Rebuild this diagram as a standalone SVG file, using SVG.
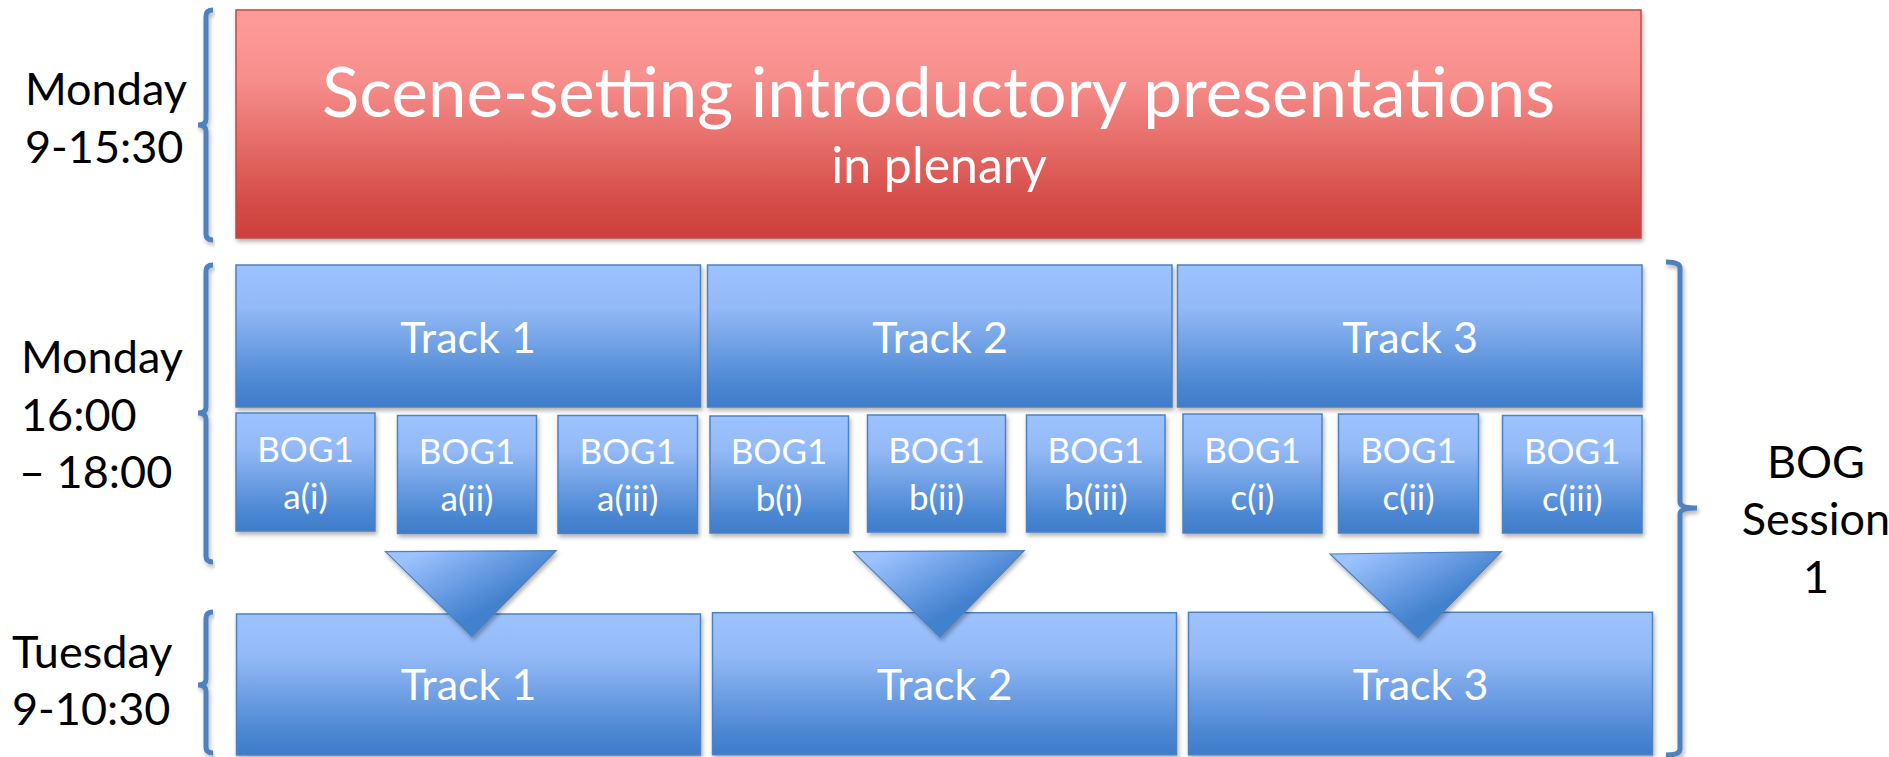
<svg xmlns="http://www.w3.org/2000/svg" width="1889" height="757" viewBox="0 0 1889 757">
<defs>
<linearGradient id="gBlue" x1="0" y1="0" x2="0" y2="1">
<stop offset="0" stop-color="#9DC3FF"/>
<stop offset="0.3" stop-color="#93B9F6"/>
<stop offset="0.85" stop-color="#4A86D2"/>
<stop offset="1" stop-color="#3F7CCB"/>
</linearGradient>
<linearGradient id="gRed" x1="0" y1="0" x2="0" y2="1">
<stop offset="0" stop-color="#FF9C9A"/>
<stop offset="0.3" stop-color="#F78F8C"/>
<stop offset="0.85" stop-color="#D44B47"/>
<stop offset="1" stop-color="#CD3F3C"/>
</linearGradient>
<linearGradient id="gTri" x1="0.15" y1="0.05" x2="0.7" y2="0.55">
<stop offset="0" stop-color="#9DC3FF"/>
<stop offset="1" stop-color="#4381CE"/>
</linearGradient>
<filter id="sh" x="-10%" y="-10%" width="120%" height="130%">
<feDropShadow dx="1.5" dy="3" stdDeviation="2" flood-color="#000" flood-opacity="0.3"/>
</filter>
</defs>
<style>
.blue{fill:url(#gBlue);stroke:#4F81BD;stroke-width:1.5;filter:url(#sh)}
.red{fill:url(#gRed);stroke:#BE4B48;stroke-width:1.5;filter:url(#sh)}
.tri{fill:url(#gTri);stroke:#4F81BD;stroke-width:1.2;filter:url(#sh)}
.br{fill:none;stroke:#4F81BD;stroke-width:5;filter:url(#sh)}
.w{fill:#FFFFFF;font-family:Lato,"Liberation Sans",sans-serif;text-anchor:middle}
.k{fill:#000000;font-family:Lato,"Liberation Sans",sans-serif;font-size:45px}
.trk{font-size:43px}
.bog{font-size:35px}
</style>

<g id="brackets">
<path class="br" d="M213,10 Q206,10 206,16 V119 Q206,125 198,125 Q206,125 206,131 V234 Q206,240 213,240"/>
<path class="br" d="M213,265 Q206,265 206,271 V407 Q206,413 198,413 Q206,413 206,419 V556 Q206,562 213,562"/>
<path class="br" d="M213,612 Q206,612 206,618 V679 Q206,685 198,685 Q206,685 206,691 V747 Q206,753 213,753"/>
<path class="br" d="M1666,262 Q1680,262 1680,268 V502 Q1680,508 1697,508 Q1680,508 1680,514 V749 Q1680,755 1666,755"/>
</g>

<g id="labels">
<text class="k" x="25" y="105">Monday</text>
<text class="k" x="25" y="163">9-15:30</text>
<text class="k" x="21" y="373">Monday</text>
<text class="k" x="21" y="431">16:00</text>
<text class="k" x="19" y="488">– 18:00</text>
<text class="k" x="12" y="668">Tuesday</text>
<text class="k" x="12" y="725">9-10:30</text>
<text class="k" x="1816" y="478" text-anchor="middle">BOG</text>
<text class="k" x="1816" y="535" text-anchor="middle">Session</text>
<text class="k" x="1816" y="593" text-anchor="middle">1</text>
</g>

<g id="plenary">
<rect class="red" x="236" y="10" width="1405" height="228"/>
<text class="w" x="938.5" y="117" font-size="69">Scene-setting introductory presentations</text>
<text class="w" x="939" y="183" font-size="50">in plenary</text>
</g>

<g id="track1-mon">
<rect class="blue" x="236" y="265" width="464.5" height="142"/>
<text class="w trk" x="468" y="353">Track 1</text>
</g>
<g id="track2-mon">
<rect class="blue" x="707.5" y="265" width="464.5" height="142"/>
<text class="w trk" x="940" y="353">Track 2</text>
</g>
<g id="track3-mon">
<rect class="blue" x="1177.5" y="265" width="464.5" height="142"/>
<text class="w trk" x="1410" y="353">Track 3</text>
</g>

<g id="bog-a1"><rect class="blue" x="236" y="413" width="139" height="118"/><text class="w bog" x="305.5" y="462">BOG1</text><text class="w bog" x="305.5" y="509">a(i)</text></g>
<g id="bog-a2"><rect class="blue" x="397.5" y="415.5" width="139" height="118"/><text class="w bog" x="467" y="464">BOG1</text><text class="w bog" x="467" y="511">a(ii)</text></g>
<g id="bog-a3"><rect class="blue" x="558" y="415.5" width="139.5" height="118"/><text class="w bog" x="627.7" y="464">BOG1</text><text class="w bog" x="627.7" y="511">a(iii)</text></g>
<g id="bog-b1"><rect class="blue" x="710" y="416" width="138.5" height="117"/><text class="w bog" x="779" y="463.5">BOG1</text><text class="w bog" x="779" y="510.5">b(i)</text></g>
<g id="bog-b2"><rect class="blue" x="867.5" y="415" width="138" height="117"/><text class="w bog" x="936.5" y="462.5">BOG1</text><text class="w bog" x="936.5" y="509.5">b(ii)</text></g>
<g id="bog-b3"><rect class="blue" x="1026.5" y="415" width="138.5" height="117"/><text class="w bog" x="1095.8" y="462.5">BOG1</text><text class="w bog" x="1095.8" y="509.5">b(iii)</text></g>
<g id="bog-c1"><rect class="blue" x="1183" y="414" width="139" height="119"/><text class="w bog" x="1252.5" y="463">BOG1</text><text class="w bog" x="1252.5" y="510">c(i)</text></g>
<g id="bog-c2"><rect class="blue" x="1338.5" y="414" width="140" height="119"/><text class="w bog" x="1408.5" y="463">BOG1</text><text class="w bog" x="1408.5" y="510">c(ii)</text></g>
<g id="bog-c3"><rect class="blue" x="1502.5" y="415.5" width="139.5" height="117.5"/><text class="w bog" x="1572.2" y="464">BOG1</text><text class="w bog" x="1572.2" y="511">c(iii)</text></g>

<g id="track1-tue">
<rect class="blue" x="236.5" y="614" width="464" height="141"/>
<text class="w trk" x="468.5" y="700">Track 1</text>
</g>
<g id="track2-tue">
<rect class="blue" x="712.5" y="612.7" width="464" height="142"/>
<text class="w trk" x="944.5" y="700">Track 2</text>
</g>
<g id="track3-tue">
<rect class="blue" x="1188.5" y="612.3" width="464" height="142.5"/>
<text class="w trk" x="1420.5" y="700">Track 3</text>
</g>

<g id="connectors">
<polygon class="tri" points="385.5,551.7 556.2,550.7 472,636.7"/>
<polygon class="tri" points="853.3,551.7 1024.3,550.7 940,637.3"/>
<polygon class="tri" points="1330,554 1501.4,551.7 1418,638"/>
</g>
</svg>
